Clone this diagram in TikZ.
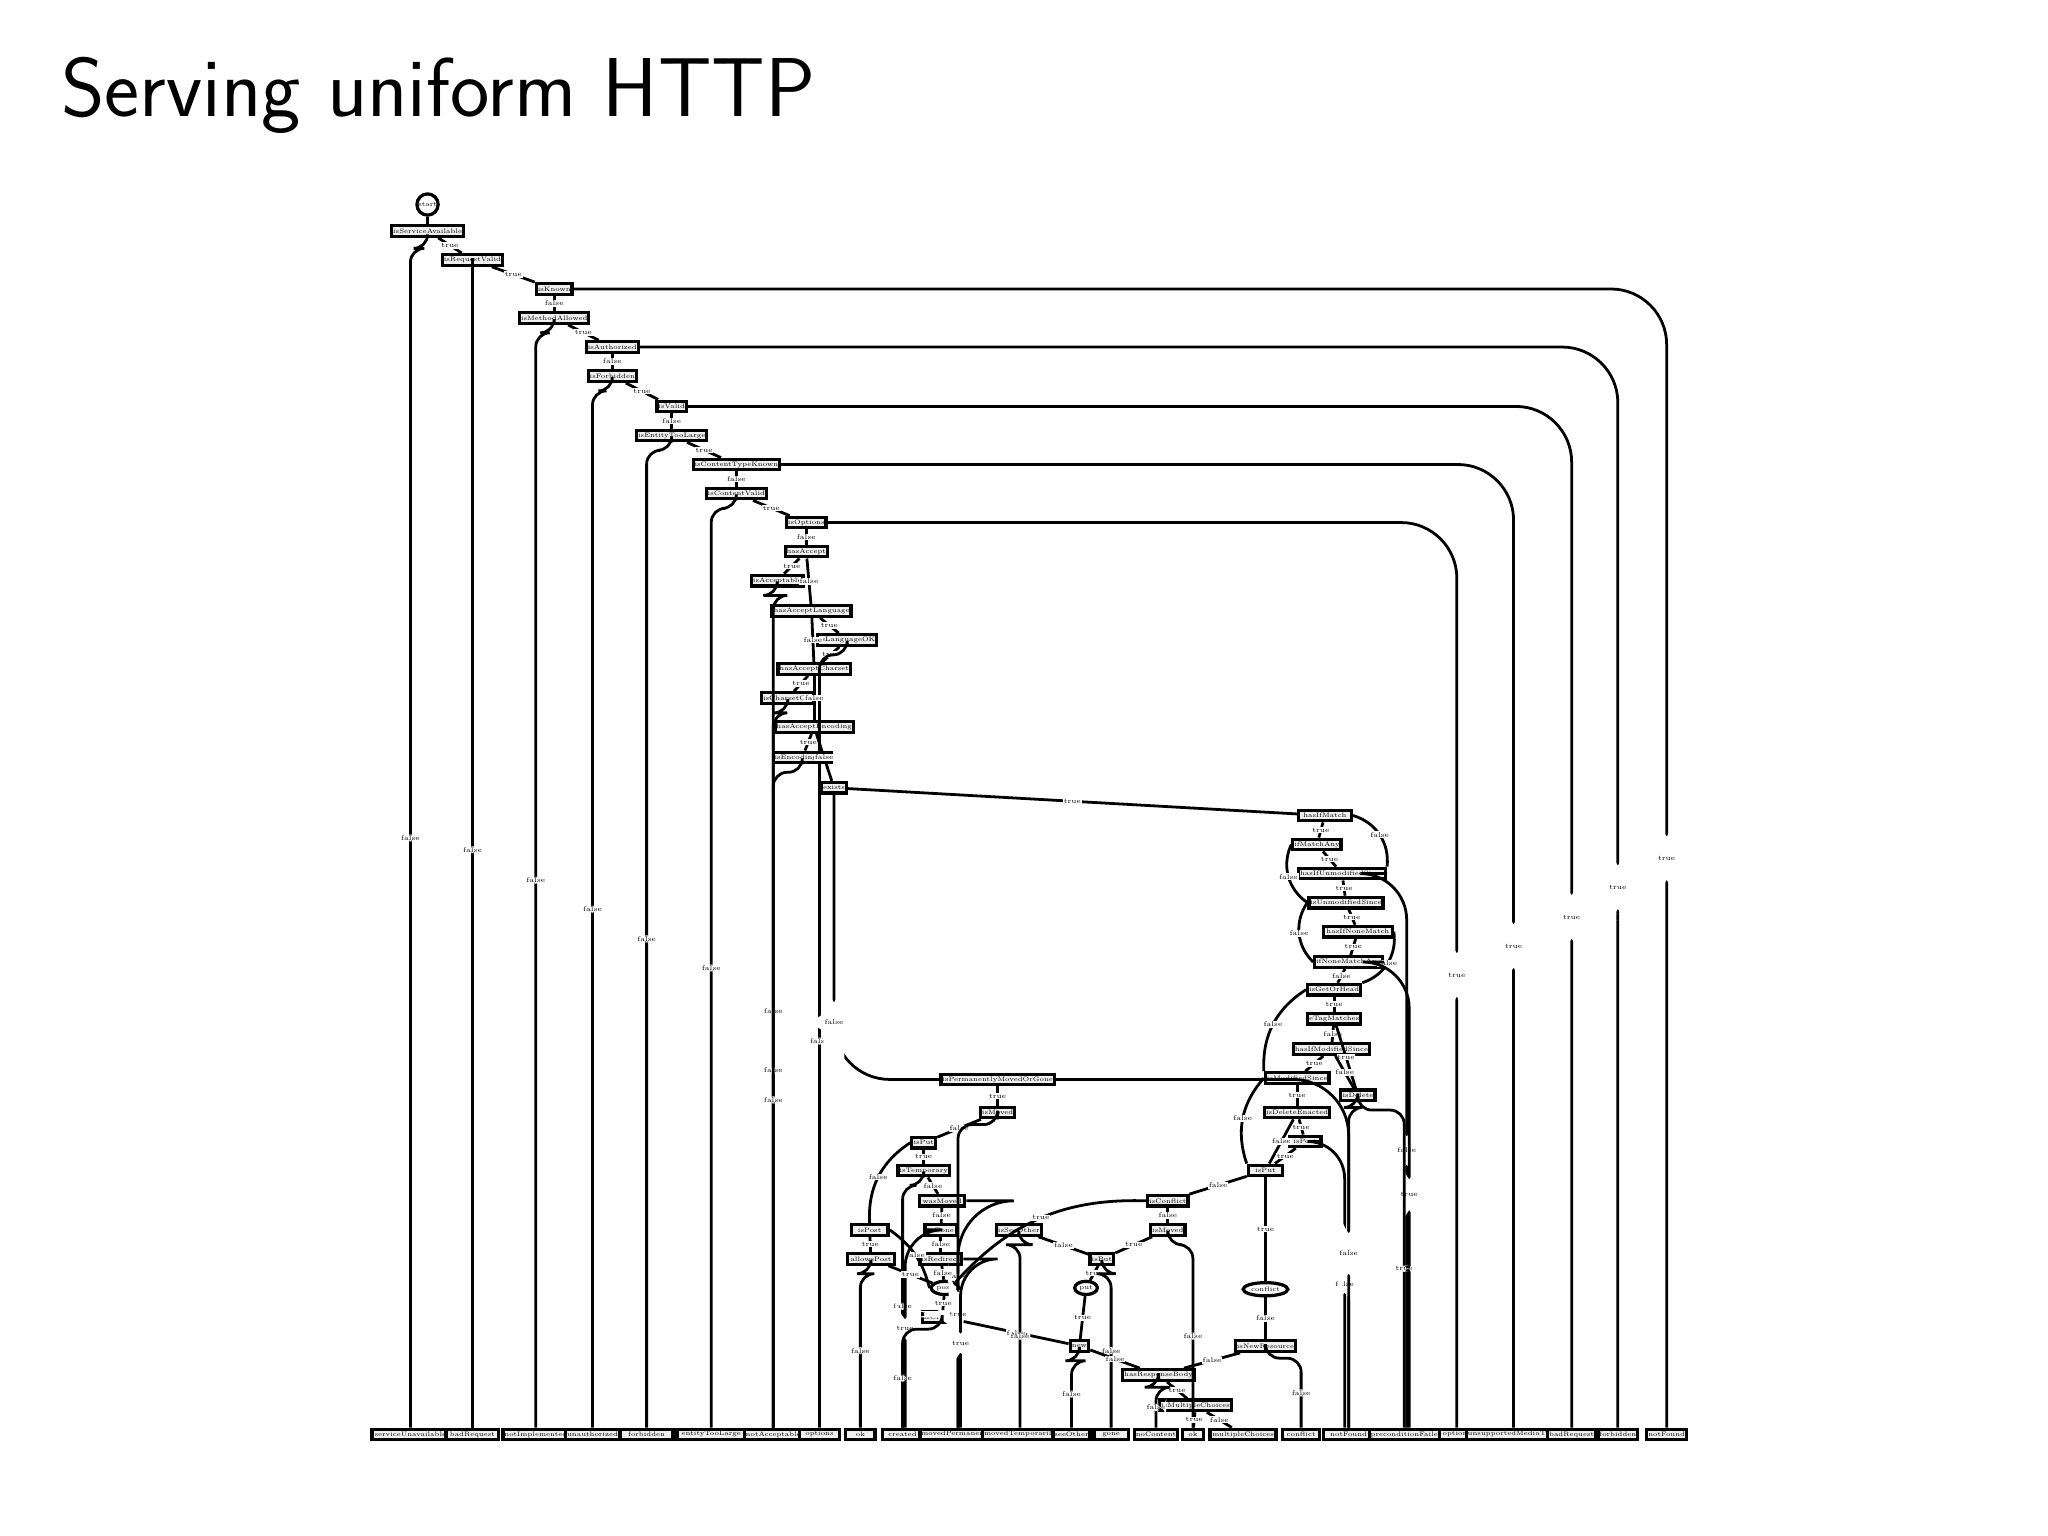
\documentclass[tikz,border=0pt]{standalone}
\usetikzlibrary{shapes.geometric}
\tikzset{
 bx/.style={draw,line width=0.7pt,fill=gray!12,inner sep=0.3pt,minimum height=0.08cm,font=\fontsize{1.4}{1.6}\selectfont},
 ov/.style={draw,ellipse,line width=0.7pt,fill=white,inner sep=0.3pt,minimum width=0.14cm,minimum height=0.1cm,font=\fontsize{1.4}{1.6}\selectfont},
 e/.style={line width=0.6pt},
 lb/.style={font=\fontsize{1.5}{1.7}\selectfont,inner sep=0.2pt,fill=white}}
\newcommand\dropto[3]{\draw[e,rounded corners=3pt] (#1.south) -- +(0,#3) -| node[lb,pos=0.75]{false} (#2.north);}
\newcommand\arcto[3]{\draw[e,rounded corners=12pt] (#1.east) -| node[lb,pos=0.75]{#3} (#2.north);}
\newcommand\dg[3]{\draw[e] (#1) -- node[lb]{#3} (#2);}
\begin{document}
\begin{tikzpicture}[x=0.01cm,y=-0.01cm]
\useasboundingbox (0,0) rectangle (1552,1164);
\node[anchor=west,font=\sffamily\fontsize{18}{21}\selectfont] (title) at (34,72) {Serving uniform HTTP};
\node[draw,circle,line width=0.7pt,inner sep=0.2pt,minimum size=0.14cm,font=\fontsize{1.4}{1.6}\selectfont] (c0) at (324,155) {start};
\node[bx,minimum width=0.30cm] (n1) at (324,175) {isServiceAvailable};
\node[bx,minimum width=0.30cm] (n2) at (358,197) {isRequestValid};
\node[bx,minimum width=0.24cm] (n3) at (420,219) {isKnown};
\node[bx,minimum width=0.30cm] (n4) at (420,241) {isMethodAllowed};
\node[bx,minimum width=0.22cm] (n5) at (464,263) {isAuthorized};
\node[bx,minimum width=0.20cm] (n6) at (464,285) {isForbidden};
\node[bx,minimum width=0.18cm] (n7) at (509,308) {isValid};
\node[bx,minimum width=0.36cm] (n8) at (509,330) {isEntityTooLarge};
\node[bx,minimum width=0.36cm] (n9) at (558,352) {isContentTypeKnown};
\node[bx,minimum width=0.36cm] (n10) at (558,374) {isContentValid};
\node[bx,minimum width=0.20cm] (n11) at (611,396) {isOptions};
\node[bx,minimum width=0.22cm] (n12) at (611,418) {hasAccept};
\node[bx,minimum width=0.38cm] (n13) at (589,440) {isAcceptable};
\node[bx,minimum width=0.40cm] (n14) at (615,463) {hasAcceptLanguage};
\node[bx,minimum width=0.40cm] (n15) at (642,485) {isLanguageOK};
\node[bx,minimum width=0.38cm] (n16) at (617,507) {hasAcceptCharset};
\node[bx,minimum width=0.30cm] (n17) at (597,529) {isCharsetOK};
\node[bx,minimum width=0.40cm] (n18) at (617,551) {hasAcceptEncoding};
\node[bx,minimum width=0.34cm] (n19) at (608,574) {isEncodingOK};
\node[bx,minimum width=0.14cm] (n20) at (632,597) {exists};
% right branch
\node[bx,minimum width=0.40cm] (r1) at (1004,618) {hasIfMatch};
\node[bx,minimum width=0.24cm] (r2) at (998,640) {ifMatchAny};
\node[bx,minimum width=0.56cm] (r3) at (1017,662) {hasIfUnmodifiedSince};
\node[bx,minimum width=0.44cm] (r4) at (1020,684) {isUnmodifiedSince};
\node[bx,minimum width=0.52cm] (r5) at (1029,706) {hasIfNoneMatch};
\node[bx,minimum width=0.30cm] (r6) at (1022,729) {ifNoneMatchAny};
\node[bx,minimum width=0.36cm] (r7) at (1011,750) {isGetOrHead};
\node[bx,minimum width=0.34cm] (r8) at (1011,772) {eTagMatches};
\node[bx,minimum width=0.42cm] (r9) at (1009,795) {hasIfModifiedSince};
\node[bx,minimum width=0.42cm] (r10) at (983,817) {isModifiedSince};
\node[bx,minimum width=0.26cm] (r11) at (1029,830) {isDelete};
\node[bx,minimum width=0.44cm] (r12) at (983,843) {isDeleteEnacted};
\node[bx,minimum width=0.24cm] (r13) at (989,865) {isPost};
\node[bx,minimum width=0.26cm] (r14) at (959,887) {isPut};
\node[ov] (r15) at (959,977) {conflict};
\node[bx,minimum width=0.28cm] (r16) at (959,1020) {isNewResource};
% middle branch
\node[bx,minimum width=0.78cm] (m1) at (756,818) {isPermanentlyMovedOrGone};
\node[bx,minimum width=0.26cm] (m2) at (756,843) {isMoved};
\node[bx,minimum width=0.18cm] (m3) at (700,866) {isPut};
\node[bx,minimum width=0.36cm] (m4) at (700,887) {isTemporary};
\node[bx,minimum width=0.34cm] (m5) at (714,910) {wasMoved};
\node[bx,minimum width=0.28cm] (m6) at (659,932) {isPost};
\node[bx,minimum width=0.24cm] (m7) at (713,932) {isGone};
\node[bx,minimum width=0.36cm] (m8) at (660,954) {allowsPost};
\node[bx,minimum width=0.28cm] (m9) at (713,954) {isRedirect};
\node[ov] (m10) at (716,976) {post};
\node[bx,minimum width=0.24cm] (m11) at (714,998) {isCreated};
\node[bx,minimum width=0.34cm] (m12) at (772,932) {isSeeOther};
\node[bx,minimum width=0.18cm] (m13) at (835,954) {isPut};
\node[ov] (m14) at (823,976) {put};
\node[bx,minimum width=0.14cm] (m15) at (818,1020) {new};
\node[bx,minimum width=0.30cm] (m16) at (885,910) {isConflict};
\node[bx,minimum width=0.26cm] (m17) at (885,932) {isMoved};
\node[bx,minimum width=0.34cm] (m18) at (878,1042) {hasResponseBody};
\node[bx,minimum width=0.38cm] (m19) at (906,1065) {isMultipleChoices};
% bottom row
\foreach \i/\x/\w/\t in {1/311/0.58/serviceUnavailable,2/358/0.40/badRequest,3/406/0.46/notImplemented,4/449/0.36/unauthorized,5/490/0.40/forbidden,6/539/0.52/entityTooLarge,7/586/0.38/notAcceptable,8/621/0.30/options,9/652/0.22/ok,10/684/0.30/created,11/726/0.48/movedPermanently,12/773/0.44/movedTemporarily,13/812/0.28/seeOther,14/842/0.26/gone,15/876/0.30/noContent,16/904/0.16/ok,17/942/0.50/multipleChoices,18/986/0.28/conflict,19/1022/0.38/notFound,20/1066/0.46/preconditionFailed,21/1104/0.26/options,22/1147/0.52/unsupportedMediaType,23/1191/0.28/badRequest,24/1226/0.30/forbidden,25/1263/0.30/notFound}
  \node[bx,minimum width=\w cm] (b\i) at (\x,1087) {\t};
% spine
\draw[e] (c0) -- (n1);
\dg{n1}{n2}{true} \dropto{n1}{b1}{8}
\dg{n2}{n3}{true} \dropto{n2}{b2}{4}
\dg{n3}{n4}{false} \arcto{n3}{b25}{true}
\dg{n4}{n5}{true} \dropto{n4}{b3}{6}
\dg{n5}{n6}{false} \arcto{n5}{b24}{true}
\dg{n6}{n7}{true} \dropto{n6}{b4}{6}
\dg{n7}{n8}{false} \arcto{n7}{b23}{true}
\dg{n8}{n9}{true} \dropto{n8}{b5}{6}
\dg{n9}{n10}{false} \arcto{n9}{b22}{true}
\dg{n10}{n11}{true} \dropto{n10}{b6}{6}
\dg{n11}{n12}{false} \arcto{n11}{b21}{true}
\dg{n12}{n13}{true} \dg{n12}{n14}{false}
\dropto{n13}{b7}{6}
\dg{n14}{n15}{true} \dg{n14}{n16}{false}
\dg{n15}{n16}{true} \dropto{n15}{b8}{6}
\dg{n16}{n17}{true} \dg{n16}{n18}{false}
\dropto{n17}{b7}{6}
\dg{n18}{n19}{true} \dg{n18}{n20}{false}
\dropto{n19}{b7}{6}
\dg{n20}{r1}{true}
\draw[e,rounded corners=12pt] (n20.south) |- node[lb,pos=0.4]{false} (m1.west);
% right branch
\dg{r1}{r2}{true} \draw[e] (r1.east) to[bend left=40] node[lb]{false} (r3.north east);
\dg{r2}{r3}{true} \draw[e] (r2.west) to[bend right=40] node[lb]{false} (r4.west);
\dg{r3}{r4}{true} \draw[e,rounded corners=10pt] (r3.east) -| node[lb,pos=0.75]{false} (b20.north);
\dg{r4}{r5}{true} \draw[e] (r4.west) to[bend right=40] node[lb]{false} (r6.west);
\dg{r5}{r6}{true} \draw[e] (r5.east) to[bend left=40] node[lb]{false} (r7.north east);
\dg{r6}{r7}{false} \draw[e,rounded corners=10pt] (r6.east) -| node[lb,pos=0.75]{true} (b20.70);
\dg{r7}{r8}{true} \draw[e] (r7.west) to[bend right=30] node[lb]{false} (r10.north west);
\dg{r8}{r9}{false} \dg{r8}{r11}{true}
\dg{r9}{r10}{true} \dg{r9}{r11}{false}
\dg{r10}{r12}{true} \draw[e] (r10.west) to[bend right=30] node[lb]{false} (r14.north west);
\draw[e,rounded corners=3pt] (r11.south) -- +(0,6) -| node[lb,pos=0.75]{true} (b20.110);
\dropto{r11}{b19}{4}
\dg{r12}{r13}{true} \dg{r12}{r14}{false}
\dg{r13}{r14}{true} \draw[e,rounded corners=8pt] (r13.east) -| node[lb,pos=0.75]{false} (b19.120);
\dg{r14}{r15}{true} \dg{r14}{m16}{false}
\dg{r15}{r16}{false} \dropto{r16}{b18}{4}
\dg{r16}{m18}{false}
% middle branch
\dg{m1}{m2}{true} \draw[e,rounded corners=12pt] (m1.east) -| node[lb,pos=0.75]{false} (b19.north);
\dg{m2}{m3}{false} \dropto{m2}{b11}{4}
\dg{m3}{m4}{true} \draw[e] (m3.west) to[bend right=30] node[lb]{false} (m6.north);
\dg{m4}{m5}{false} \dropto{m4}{b10}{6}
\dg{m5}{m7}{false} \arcto{m5}{b11}{true}
\dg{m6}{m8}{true} \draw[e] (m6.east) to[bend left=20] node[lb]{false} (m10.west);
\dg{m7}{m9}{false} \draw[e,rounded corners=8pt] (m7.west) -| node[lb,pos=0.75]{true} (b10.70);
\dropto{m8}{b9}{6} \dg{m8}{m10}{true}
\dg{m9}{m10}{false} \draw[e,rounded corners=8pt] (m9.east) -| node[lb,pos=0.75]{true} (b11.70);
\dg{m10}{m11}{true} \dg{m11}{m15}{false} \dropto{m11}{b10}{4}
\dg{m12}{m13}{false} \dropto{m12}{b12}{6}
\dg{m13}{m14}{true} \dropto{m13}{b14}{6}
\dg{m14}{m15}{true}
\dropto{m15}{b13}{6} \dg{m15}{m18}{false}
\dg{m16}{m17}{false} \draw[e] (m16.west) to[bend right=25] node[lb]{true} (m10.north east);
\dg{m17}{m13}{true} \dropto{m17}{b16}{6}
\dg{m18}{m19}{true} \dropto{m18}{b15}{4}
\dg{m19}{b16}{true} \dg{m19}{b17}{false}
\end{tikzpicture}
\end{document}
